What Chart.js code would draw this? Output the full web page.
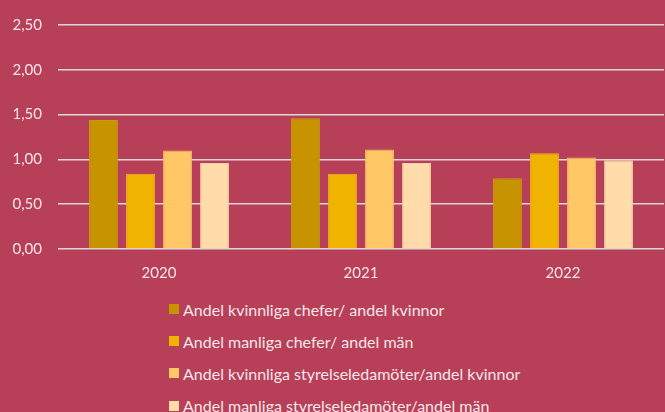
<!DOCTYPE html>
<html>
<head>
<meta charset="utf-8">
<script src="https://cdn.jsdelivr.net/npm/chart.js@4/dist/chart.umd.min.js"></script>
<style>
  html, body { margin: 0; padding: 0; background: #B83F58; overflow: hidden; }
  #wrap { position: relative; width: 665px; height: 412px; }
  #chartBox { position: absolute; left: 0; top: 0; width: 665px; height: 290px; }
  #legend { position: absolute; left: 169px; top: 293px; font-family: Lato, "Open Sans", sans-serif;
            font-size: 16px; color: #F5E6EA; }
  .item { height: 32.2px; display: flex; align-items: center; white-space: nowrap; }
  .box { width: 10px; height: 10px; margin-right: 4px; }
</style>
</head>
<body>
<div id="wrap">
  <div id="chartBox"><canvas id="chart"></canvas></div>
  <div id="legend"></div>
</div>
<script>
// === Data ===
const years = ["2020", "2021", "2022"];
const seriesNames = [
  "Andel kvinnliga chefer/ andel kvinnor",
  "Andel manliga chefer/ andel män",
  "Andel kvinnliga styrelseledamöter/andel kvinnor",
  "Andel manliga styrelseledamöter/andel män",
];
const womenManagers = [1.44, 1.46, 0.79];
const menManagers = [0.84, 0.84, 1.07];
const womenBoard = [1.10, 1.11, 1.02];
const menBoard = [0.96, 0.96, 0.99];
const yTicks = [0, 0.5, 1, 1.5, 2, 2.5];

const colors = ["#C79400", "#F0B400", "#FFC766", "#FFDCA9"];
const borders = ["#C99A10", "#F2B020", "#F8BE6A", "#F2CFA8"];
const values = [womenManagers, menManagers, womenBoard, menBoard];

const labelColor = "#F5E6EA";

// === Chart ===
new Chart(document.getElementById("chart"), {
  type: "bar",
  data: {
    labels: years,
    datasets: seriesNames.map((name, i) => ({
      label: name,
      data: values[i],
      backgroundColor: colors[i],
      borderColor: borders[i],
      borderWidth: 1,
      categoryPercentage: 0.733,
      barPercentage: 0.78,
    })),
  },
  options: {
    responsive: true,
    maintainAspectRatio: false,
    animation: false,
    layout: { padding: { top: 24, right: 1, left: 0, bottom: 0 } },
    plugins: { legend: { display: false }, tooltip: { enabled: false } },
    scales: {
      x: {
        grid: { display: false },
        border: { display: false },
        ticks: {
          color: labelColor,
          font: { family: "Lato", size: 15 },
          padding: 7,
        },
        afterFit: (s) => { s.height = 41; },
      },
      y: {
        min: 0,
        max: 2.5,
        afterBuildTicks: (s) => { s.ticks = yTicks.map((v) => ({ value: v })); },
        grid: { color: "#D9D9D9", lineWidth: 1.5, drawTicks: false },
        border: { display: false },
        ticks: {
          color: labelColor,
          font: { family: "Lato", size: 15 },
          padding: 16,
          callback: (v) => v.toFixed(2).replace(".", ","),
        },
        afterFit: (s) => { s.width = 58; },
      },
    },
  },
});

// === Legend ===
const legend = document.getElementById("legend");
seriesNames.forEach((name, i) => {
  const row = document.createElement("div");
  row.className = "item";
  const box = document.createElement("span");
  box.className = "box";
  box.style.background = colors[i];
  const txt = document.createElement("span");
  txt.textContent = name;
  row.appendChild(box);
  row.appendChild(txt);
  legend.appendChild(row);
});
</script>
</body>
</html>
